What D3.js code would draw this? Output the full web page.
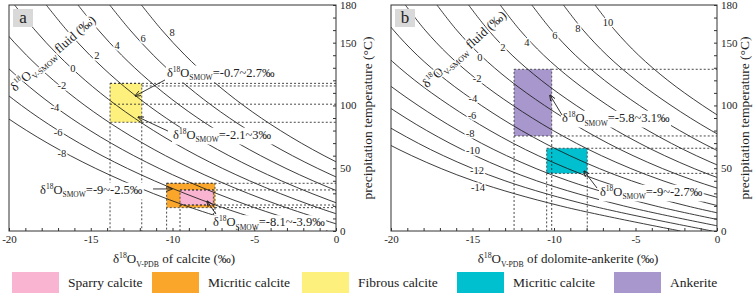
<!DOCTYPE html>
<html><head><meta charset="utf-8">
<script src="https://cdn.jsdelivr.net/npm/d3@7"></script>
<style>
body{margin:0;background:#fff;}
svg text{font-family:"Liberation Serif","Times New Roman",serif;fill:#222;}
</style></head><body>
<svg id="chart" width="754" height="296"></svg>
<script>
// ---------- data ----------
const tempsC = [0,20,40,60,80,100,120,140,160,180];
const calciteFluid = [-8,-6,-4,-2,0,2,4,6,8];
const calciteCurves = [
 [-4.40,-9.17,-13.05,-16.25,-18.92,-21.18,-23.10,-24.75,-26.17,-27.42],
 [-2.46,-7.23,-11.11,-14.31,-16.98,-19.24,-21.16,-22.81,-24.23,-25.48],
 [-0.52,-5.29,-9.17,-12.37,-15.04,-17.30,-19.22,-20.87,-22.29,-23.54],
 [1.42,-3.35,-7.23,-10.43,-13.10,-15.36,-17.28,-18.93,-20.35,-21.60],
 [3.36,-1.41,-5.29,-8.49,-11.16,-13.42,-15.34,-16.99,-18.41,-19.66],
 [5.30,0.53,-3.35,-6.55,-9.22,-11.48,-13.40,-15.05,-16.47,-17.72],
 [7.24,2.47,-1.41,-4.61,-7.28,-9.54,-11.46,-13.11,-14.53,-15.78],
 [9.18,4.41,0.53,-2.67,-5.34,-7.60,-9.52,-11.17,-12.59,-13.84],
 [11.12,6.35,2.47,-0.73,-3.40,-5.66,-7.58,-9.23,-10.65,-11.90]
];
const calciteLabelPos = [[-16.76,62.1],[-17.0,78.8],[-17.19,98.8],[-16.76,116.3],[-16.09,129.8],[-14.62,140.2],[-13.39,148.1],[-11.8,153.7],[-10.03,158.5]];

const dolomiteFluid = [-14,-12,-10,-8,-6,-4,-2,0,2,4,6,8,10];
const dolomiteCurves = [
 [-2.24,-9.61,-14.95,-18.73,-21.69,-24.16,-26.30,-28.09,-29.55,-30.76],
 [-0.30,-7.67,-13.01,-16.79,-19.75,-22.22,-24.36,-26.15,-27.61,-28.82],
 [1.64,-5.73,-11.07,-14.85,-17.81,-20.28,-22.42,-24.21,-25.67,-26.88],
 [3.58,-3.79,-9.13,-12.91,-15.87,-18.34,-20.48,-22.27,-23.73,-24.94],
 [5.52,-1.85,-7.19,-10.97,-13.93,-16.40,-18.54,-20.33,-21.79,-23.00],
 [7.46,0.09,-5.25,-9.03,-11.99,-14.46,-16.60,-18.39,-19.85,-21.06],
 [9.40,2.03,-3.31,-7.09,-10.05,-12.52,-14.66,-16.45,-17.91,-19.12],
 [11.34,3.97,-1.37,-5.15,-8.11,-10.58,-12.72,-14.51,-15.97,-17.18],
 [13.28,5.91,0.57,-3.21,-6.17,-8.64,-10.78,-12.57,-14.03,-15.24],
 [15.22,7.85,2.51,-1.27,-4.23,-6.70,-8.84,-10.63,-12.09,-13.30],
 [17.16,9.79,4.45,0.67,-2.29,-4.76,-6.90,-8.69,-10.15,-11.36],
 [19.10,11.73,6.39,2.61,-0.35,-2.82,-4.96,-6.75,-8.21,-9.42],
 [21.04,13.67,8.33,4.55,1.59,-0.88,-3.02,-4.81,-6.27,-7.48]
];
const dolomiteLabelPos = [[-14.66,35.0],[-14.72,48.6],[-14.97,64.5],[-15.15,78.0],[-15.03,92.4],[-14.97,105.9],[-14.72,121.9],[-14.54,138.6],[-13.13,146.5],[-11.66,150.5],[-9.94,156.1],[-8.53,161.7],[-6.69,166.5]];

const xTickLabels = [-20,-15,-10,-5,0];
const yTickLabels = [0,50,100,150,180];

const boxesA = [
 {name:"Fibrous calcite", color:"#fdf07c", d:[-13.82,-11.88], t:[86.6,117.6]},
 {name:"Micritic calcite", color:"#f9a62b", d:[-10.36,-7.40], t:[18.6,38.0]},
 {name:"Sparry calcite", color:"#f8b4d0", d:[-9.54,-7.50], t:[20.7,32.7]}
];
const boxesB = [
 {name:"Ankerite", color:"#a797cd", d:[-12.45,-10.14], t:[75.7,128.8]},
 {name:"Micritic calcite", color:"#00bfcf", d:[-10.45,-7.96], t:[45.9,65.9]}
];
const hGuidesA = [[-13.82,117.6],[-11.88,115.5],[-13.82,101.0],[-11.88,86.6],[-10.36,38.0],[-9.54,32.7],[-9.54,20.7],[-7.40,18.6]];
const vGuidesA = [[-13.82,86.6],[-11.88,86.6],[-10.36,18.6],[-9.54,20.7],[-7.50,20.7],[-7.40,18.6]];
const hGuidesB = [[-10.14,128.8],[-10.14,75.7],[-7.96,65.9],[-7.96,45.9]];
const vGuidesB = [[-12.45,75.7],[-10.14,75.7],[-10.45,45.9],[-7.96,45.9]];

const notesA = [
 {v:"=-0.7~2.7‰", at:[-10.34,122.8], from:[-10.46,120.3], to:[-12.29,107.5]},
 {v:"=-2.1~3‰", at:[-9.97,73.3], from:[-10.28,79.6], to:[-12.11,90.8]},
 {v:"=-9~-2.5‰", at:[-18.10,29.5], from:[-11.19,33.5], to:[-10.03,33.5]},
 {v:"=-8.1~-3.9‰", at:[-7.52,3.6], from:[-7.34,13.5], to:[-7.89,23.9]}
];
const notesB = [
 {v:"=-5.8~3.1‰", at:[-9.51,86.8], from:[-9.51,92.4], to:[-10.25,108.3]},
 {v:"=-9~-2.7‰", at:[-7.18,27.9], from:[-7.36,34.2], to:[-8.16,47.8]}
];
const legendItems = [
 {name:"Sparry calcite", color:"#f8b4d0"},
 {name:"Micritic calcite", color:"#f9a62b"},
 {name:"Fibrous calcite", color:"#fdf07c"},
 {name:"Micritic calcite", color:"#00bfcf"},
 {name:"Ankerite", color:"#a797cd"}
];

// ---------- drawing ----------
const svg = d3.select("#chart");
const defs = svg.append("defs");
defs.append("marker").attr("id","arr").attr("viewBox","0 0 10 10").attr("refX",9).attr("refY",5)
 .attr("markerWidth",7).attr("markerHeight",7).attr("orient","auto-start-reverse")
 .append("path").attr("d","M0,1 L10,5 L0,9").attr("fill","none").attr("stroke","#222").attr("stroke-width",1.4);

function rich(g, parts, fs){
  const t = g.append("text").attr("font-size", fs);
  let cur = 0;
  parts.forEach(p=>{
    const k = p[1]||"n";
    const shift = k==="sup" ? -0.42*fs : k==="sub" ? 0.28*fs : 0;
    const s = t.append("tspan").text(p[0]).attr("dy", shift-cur);
    if(k!=="n") s.attr("font-size", 0.6*fs);
    cur = shift;
  });
  return t;
}

function panel(opt){
  const x = d3.scaleLinear().domain([-20,0]).range(opt.xr);
  const y = d3.scaleLinear().domain([0,180]).range([231,5]);
  const g = svg.append("g");
  const cid = "clip"+opt.id;
  defs.append("clipPath").attr("id",cid).append("rect")
    .attr("x",opt.xr[0]).attr("y",5).attr("width",opt.xr[1]-opt.xr[0]).attr("height",226);
  const plot = g.append("g").attr("clip-path",`url(#${cid})`);

  opt.boxes.forEach(b=>{
    plot.append("rect").attr("x",x(b.d[0])).attr("y",y(b.t[1]))
      .attr("width",x(b.d[1])-x(b.d[0])).attr("height",y(b.t[0])-y(b.t[1]))
      .attr("fill",b.color).attr("stroke","#444").attr("stroke-width",0.9).attr("stroke-dasharray","2,2");
  });
  const line = d3.line().x(d=>x(d[0])).y(d=>y(d[1])).curve(d3.curveCatmullRom);
  opt.curves.forEach(c=>{
    plot.append("path").attr("d", line(c.map((v,i)=>[v,tempsC[i]])))
      .attr("fill","none").attr("stroke","#1a1a1a").attr("stroke-width",0.85);
  });
  opt.hGuides.forEach(h=>{
    plot.append("line").attr("x1",x(h[0])).attr("x2",x(0)).attr("y1",y(h[1])).attr("y2",y(h[1]))
      .attr("stroke","#333").attr("stroke-width",0.9).attr("stroke-dasharray","2,2");
  });
  opt.vGuides.forEach(v=>{
    plot.append("line").attr("x1",x(v[0])).attr("x2",x(v[0])).attr("y1",y(v[1])).attr("y2",y(0))
      .attr("stroke","#333").attr("stroke-width",0.9).attr("stroke-dasharray","2,2");
  });
  opt.labels.forEach((p,i)=>{
    plot.append("text").attr("x",x(p[0])).attr("y",y(p[1])).attr("dy","0.35em")
      .attr("text-anchor","middle").attr("font-size",10.5)
      .attr("stroke","#fff").attr("stroke-width",3).attr("paint-order","stroke")
      .text(opt.fluid[i]);
  });
  opt.notes.forEach(n=>{
    const tg = plot.append("g");
    const t = rich(tg, [["δ"],["18","sup"],["O"],["SMOW","sub"],[n.v]], 12.5)
      .attr("x", x(n.at[0])).attr("y", y(n.at[1]));
    const bb = t.node().getBBox();
    tg.insert("rect","text").attr("x",bb.x-1).attr("y",bb.y+1).attr("width",bb.width+2).attr("height",bb.height-1).attr("fill","#fff");
    plot.append("line").attr("x1",x(n.from[0])).attr("y1",y(n.from[1])).attr("x2",x(n.to[0])).attr("y2",y(n.to[1]))
      .attr("stroke","#222").attr("stroke-width",0.9).attr("marker-end","url(#arr)");
  });
  const fx = x(opt.fluidLab[0]), fy = y(opt.fluidLab[1]);
  const fg = g.append("g").attr("transform",`translate(${fx},${fy}) rotate(${opt.fluidLab[2]})`);
  rich(fg, [["δ"],["18","sup"],["O"],["V-SMOW","sub"],[" fluid (‰)"]], 13)
    .attr("stroke","#fff").attr("stroke-width",3).attr("paint-order","stroke");

  g.append("rect").attr("x",opt.xr[0]).attr("y",5).attr("width",opt.xr[1]-opt.xr[0]).attr("height",226)
    .attr("fill","none").attr("stroke","#333").attr("stroke-width",1);
  const ax = g.append("g").attr("transform","translate(0,231)")
    .call(d3.axisBottom(x).tickValues(d3.range(-20,1,1)).tickSize(-3).tickPadding(4)
      .tickFormat(d=> xTickLabels.includes(d) ? d : ""));
  ax.select(".domain").remove();
  ax.selectAll("line").attr("stroke","#333");
  ax.selectAll("text").attr("font-size",11).attr("font-family","Liberation Serif").attr("fill","#222");
  const ay = g.append("g").attr("transform",`translate(${opt.xr[1]},0)`)
    .call(d3.axisRight(y).tickValues(d3.range(0,181,10)).tickSize(-3).tickPadding(4)
      .tickFormat(d=> yTickLabels.includes(d) ? d : ""));
  ay.select(".domain").remove();
  ay.selectAll("line").attr("stroke","#333");
  ay.selectAll("text").attr("font-size",11).attr("font-family","Liberation Serif").attr("fill","#222");
  g.append("text").attr("transform",`translate(${opt.yTitleX},118) rotate(-90)`).attr("text-anchor","middle")
    .attr("font-size",13.5).text("precipitation  temperature (°C)");
  const xt = rich(g, [["δ"],["18","sup"],["O"],["V-PDB","sub"],[opt.xTitle]], 13);
  xt.attr("text-anchor","middle").attr("x",opt.xTitleX).attr("y",263);
  g.append("rect").attr("x",opt.xr[0]+4).attr("y",9).attr("width",20).attr("height",18).attr("fill","#d9d9d9");
  g.append("text").attr("x",opt.xr[0]+14).attr("y",23).attr("text-anchor","middle").attr("font-size",17).text(opt.id);
}

panel({id:"a", xr:[9,336], curves:calciteCurves, fluid:calciteFluid, labels:calciteLabelPos,
  boxes:boxesA, hGuides:hGuidesA, vGuides:vGuidesA, notes:notesA,
  fluidLab:[-19.63,110.7,-41], yTitleX:372, xTitle:" of calcite (‰)", xTitleX:174});
panel({id:"b", xr:[391,717], curves:dolomiteCurves, fluid:dolomiteFluid, labels:dolomiteLabelPos,
  boxes:boxesB, hGuides:hGuidesB, vGuides:vGuidesB, notes:notesB,
  fluidLab:[-17.79,113.5,-42], yTitleX:749, xTitle:" of dolomite-ankerite (‰)", xTitleX:568});

const lx = [12,152,302,457,614];
const lg = svg.append("g");
legendItems.forEach((it,i)=>{
  lg.append("rect").attr("x",lx[i]).attr("y",272).attr("width",47).attr("height",21).attr("fill",it.color);
  lg.append("text").attr("x",lx[i]+56).attr("y",287).attr("font-size",13.5).text(it.name);
});
</script></body></html>
